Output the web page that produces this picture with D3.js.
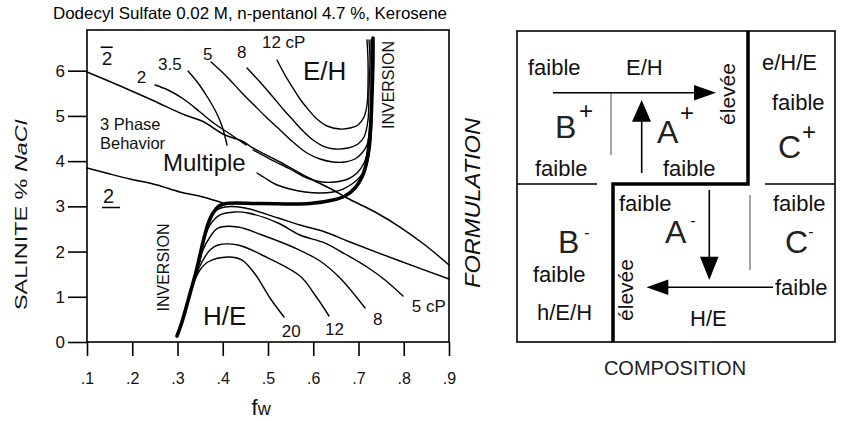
<!DOCTYPE html>
<html><head><meta charset="utf-8">
<script src="https://cdn.jsdelivr.net/npm/d3@7"></script>
<style>
html,body{margin:0;padding:0;background:#fff;}
svg{display:block;font-family:"Liberation Sans",Arial,Helvetica,sans-serif;}
</style></head><body>
<svg id="c" width="842" height="421"></svg>
<script>
// ---------------- DATA ----------------
const titleText = "Dodecyl Sulfate 0.02 M,  n-pentanol 4.7 %,  Kerosene";
const xTicks = [0.1,0.2,0.3,0.4,0.5,0.6,0.7,0.8,0.9];
const xTickLabels = [".1",".2",".3",".4",".5",".6",".7",".8",".9"];
const yTicks = [0,1,2,3,4,5,6];
const yTickLabels = ["0","1","2","3","4","5","6"];

// 3-phase boundaries  [fw, salinity]
const upperBoundary = [[0.100,5.971],[0.1685,5.683],[0.2436,5.352],[0.3166,5.020],[0.3541,4.887],[0.405,4.578],[0.4425,4.445],[0.4668,4.290],[0.5265,3.981],[0.5862,3.649],[0.6436,3.361],[0.6746,3.184],[0.7365,2.875],[0.7917,2.543],[0.847,2.145],[0.900,1.703]];
const lowerBoundary = [[0.100,3.848],[0.1508,3.715],[0.195,3.605],[0.2547,3.472],[0.3055,3.317],[0.3564,3.207],[0.4006,3.074]];

// inversion line
const inversion = [[0.2989,0.133],[0.3077,0.376],[0.3188,0.752],[0.3298,1.150],[0.3409,1.548],[0.3497,1.924],[0.3586,2.300],[0.3674,2.609],[0.3785,2.853],[0.3917,3.007],[0.4072,3.062],[0.4823,3.062],[0.5928,3.062],[0.6436,3.140],[0.6702,3.229],[0.6923,3.406],[0.7077,3.649],[0.7166,3.914],[0.7232,4.357],[0.7276,4.909],[0.7298,5.462],[0.732,6.236],[0.732,6.723]];

// iso-viscosity curves, H/E side (cP)
const hE_top = [[0.3674,2.654],[0.3807,2.875],[0.405,2.985],[0.4492,2.963],[0.5221,2.742],[0.5707,2.587],[0.626,2.433],[0.6812,2.211],[0.7917,1.791],[0.900,1.393]];
const hE_5 = [[0.3497,1.769],[0.3586,2.256],[0.3718,2.587],[0.3939,2.809],[0.4271,2.875],[0.4558,2.853],[0.5221,2.632],[0.5707,2.366],[0.626,2.189],[0.6702,1.946],[0.7188,1.659],[0.7586,1.371],[0.7983,1.017]];
const hE_8 = [[0.3453,1.636],[0.3564,2.034],[0.3718,2.322],[0.3895,2.521],[0.4337,2.543],[0.4867,2.366],[0.5597,2.079],[0.6149,1.791],[0.6591,1.415],[0.7144,0.752]];
const hE_12 = [[0.3409,1.482],[0.3541,1.769],[0.3718,2.034],[0.3895,2.145],[0.4337,2.145],[0.4867,1.924],[0.5707,1.460],[0.6039,1.039],[0.6348,0.575]];
const hE_20 = [[0.3365,1.327],[0.3497,1.592],[0.3674,1.769],[0.4116,1.880],[0.4425,1.813],[0.4713,1.504],[0.5044,0.973],[0.5354,0.553]];

// iso-viscosity curves, E/H side (cP)
const eH_12 = [[0.5199,6.236],[0.5376,5.904],[0.5552,5.617],[0.5707,5.374],[0.5862,5.175],[0.6083,4.931],[0.6304,4.777],[0.6591,4.710],[0.6812,4.732],[0.6989,4.799],[0.7122,4.976],[0.7188,5.241],[0.721,5.683],[0.721,6.236],[0.7188,6.679]];
const eH_8 = [[0.4536,6.059],[0.4823,5.750],[0.511,5.418],[0.5331,5.153],[0.5552,4.909],[0.5773,4.666],[0.5994,4.467],[0.6215,4.334],[0.6481,4.268],[0.6768,4.290],[0.6989,4.379],[0.7122,4.533],[0.721,4.909],[0.7232,5.573],[0.7254,6.236],[0.7232,6.679]];
const eH_5 = [[0.374,6.192],[0.3939,6.015],[0.416,5.794],[0.4425,5.506],[0.4669,5.263],[0.4934,4.998],[0.5265,4.688],[0.5552,4.423],[0.5862,4.180],[0.6149,4.047],[0.6436,3.981],[0.6702,3.981],[0.6923,4.047],[0.7077,4.180],[0.7188,4.357],[0.7254,4.799],[0.7276,5.573],[0.7276,6.679]];
const eH_35_upper = [[0.3232,5.993],[0.3453,5.728],[0.3674,5.396],[0.3851,5.086],[0.3983,4.777],[0.4094,4.357]];
const eH_2_upper = [[0.2503,5.683],[0.279,5.573],[0.3166,5.352],[0.3497,5.086],[0.3829,4.821],[0.416,4.600],[0.4514,4.357]];
const eH_35_lower = [[0.4669,4.246],[0.5044,4.047],[0.5486,3.826],[0.5862,3.627],[0.6193,3.538],[0.6481,3.538],[0.6768,3.605],[0.6967,3.737],[0.7122,3.958],[0.721,4.246],[0.7276,4.909],[0.7298,5.794],[0.7298,6.679]];
const eH_2_lower = [[0.4757,3.737],[0.4934,3.627],[0.5155,3.494],[0.5486,3.383],[0.5818,3.317],[0.6149,3.295],[0.6436,3.317],[0.6657,3.383],[0.6856,3.494],[0.7033,3.649],[0.7166,3.870],[0.7254,4.246],[0.7298,4.909]];

// annotations placed at [fw, salinity]
const curveLabels = [
  {t:"2", fw:0.2098, s:5.728}, {t:"3.5", fw:0.2569, s:6.015}, {t:"5", fw:0.3564, s:6.236},
  {t:"8", fw:0.4315, s:6.280}, {t:"12  cP", fw:0.4867, s:6.502},
  {t:"20", fw:0.5303, s:0.117}, {t:"12", fw:0.626, s:0.155}, {t:"8", fw:0.732, s:0.376}, {t:"5 cP", fw:0.8176, s:0.670}
];
const regionLabels = [
  {t:"E/H", fw:0.5773, s:5.794, big:true}, {t:"H/E", fw:0.3564, s:0.376, big:true},
  {t:"Multiple", fw:0.268, s:3.781, big:true},
  {t:"3 Phase", fw:0.1287, s:4.699}, {t:"Behavior", fw:0.1287, s:4.268}
];
const inversionLabels = [{t:"INVERSION", fw:0.7674, s:5.683},{t:"INVERSION", fw:0.2686, s:1.648}];

// ---------------- DRAW ----------------
const svg = d3.select("#c");
svg.append("rect").attr("width",842).attr("height",421).attr("fill","#fff");
const x = d3.scaleLinear().domain([0.1,0.9]).range([87,449]);
const y = d3.scaleLinear().domain([0,6.9]).range([342,30]);

svg.append("text").attr("x",53).attr("y",19).attr("font-size",16.5)
  .attr("textLength",394).attr("lengthAdjust","spacingAndGlyphs").text(titleText);

// frame
svg.append("rect").attr("x",x(0.1)).attr("y",y(6.9)).attr("width",x(0.9)-x(0.1)).attr("height",y(0)-y(6.9))
  .attr("fill","none").attr("stroke","#000").attr("stroke-width",1.6);

const gy = svg.append("g").attr("transform",`translate(${x(0.1)},0)`)
  .call(d3.axisLeft(y).tickValues(yTicks).tickSize(19).tickPadding(3).tickFormat((d,i)=>yTickLabels[i]));
gy.select(".domain").remove();
gy.selectAll("line").attr("stroke","#000").attr("stroke-width",1.6);
gy.selectAll("text").attr("font-size",17).attr("font-family","Liberation Sans, Arial, sans-serif").attr("fill","#111");

const gx = svg.append("g").attr("transform",`translate(0,${y(0)})`)
  .call(d3.axisBottom(x).tickValues(xTicks).tickSize(14).tickPadding(17).tickFormat((d,i)=>xTickLabels[i]));
gx.select(".domain").remove();
gx.selectAll("line").attr("stroke","#000").attr("stroke-width",1.6);
gx.selectAll("text").attr("font-size",16).attr("font-family","Liberation Sans, Arial, sans-serif").attr("fill","#111");

// axis titles
const fwT = svg.append("text").attr("x",251.5).attr("y",415).attr("fill","#111");
fwT.append("tspan").attr("font-size",22).text("f");
fwT.append("tspan").attr("font-size",18).text("w");

const salT = svg.append("text").attr("transform","translate(27,215) rotate(-90)")
  .attr("text-anchor","middle").attr("font-size",17).attr("fill","#111")
  .attr("textLength",190).attr("lengthAdjust","spacingAndGlyphs");
salT.append("tspan").text("SALINITE % ");
salT.append("tspan").attr("font-style","italic").text("NaCl");

svg.append("text").attr("transform","translate(480,203) rotate(-90)").attr("text-anchor","middle")
  .attr("font-size",22).attr("font-style","italic").attr("textLength",170).attr("lengthAdjust","spacingAndGlyphs")
  .attr("fill","#111").text("FORMULATION");

const line = d3.line().x(d=>x(d[0])).y(d=>y(d[1])).curve(d3.curveCatmullRom.alpha(0.5));
const plot = svg.append("g").attr("fill","none").attr("stroke","#000").attr("stroke-linejoin","round").attr("stroke-linecap","round");
[upperBoundary, lowerBoundary].forEach(d=>plot.append("path").attr("d",line(d)).attr("stroke-width",1.5));
[hE_top,hE_5,hE_8,hE_12,hE_20,eH_12,eH_8,eH_5,eH_35_upper,eH_2_upper,eH_35_lower,eH_2_lower]
  .forEach(d=>plot.append("path").attr("d",line(d)).attr("stroke-width",1.4));
plot.append("path").attr("d",line(inversion)).attr("stroke-width",3.6);

// labels
curveLabels.forEach(l=>svg.append("text").attr("x",x(l.fw)).attr("y",y(l.s)).attr("font-size",17).attr("fill","#111").text(l.t));
regionLabels.forEach(l=>svg.append("text").attr("x",x(l.fw)).attr("y",y(l.s)).attr("font-size",l.big?(l.t==="Multiple"?24:26):16.5).attr("fill","#111").text(l.t));
inversionLabels.forEach(l=>svg.append("text").attr("transform",`translate(${x(l.fw)},${y(l.s)}) rotate(-90)`)
  .attr("text-anchor","middle").attr("dominant-baseline","central").attr("font-size",16).attr("fill","#111").text(l.t));

// phase-count labels: 2 with overline (above) and underline (below)
const twoBar = {fw:0.1325, s:6.132}, twoUnder = {fw:0.1354, s:3.074};
svg.append("text").attr("x",x(twoBar.fw)).attr("y",y(twoBar.s)).attr("font-size",19).attr("fill","#111").text("2");
svg.append("line").attr("x1",x(twoBar.fw)-1).attr("x2",x(twoBar.fw)+11).attr("y1",y(twoBar.s)-17.5).attr("y2",y(twoBar.s)-17.5).attr("stroke","#000").attr("stroke-width",1.5);
svg.append("text").attr("x",x(twoUnder.fw)).attr("y",y(twoUnder.s)).attr("font-size",20).attr("fill","#111").text("2");
svg.append("line").attr("x1",x(twoUnder.fw)-1).attr("x2",x(twoUnder.fw)+17).attr("y1",y(twoUnder.s)+4.5).attr("y2",y(twoUnder.s)+4.5).attr("stroke","#000").attr("stroke-width",1.5);

// ---------------- RIGHT SCHEMATIC ----------------
const R = svg.append("g");
R.append("rect").attr("x",517).attr("y",31).attr("width",318).attr("height",311).attr("fill","none").attr("stroke","#000").attr("stroke-width",1.6);
R.append("path").attr("d","M748,31 V184 H613 V342").attr("fill","none").attr("stroke","#000").attr("stroke-width",3.5);
R.append("path").attr("d","M517,184 H597 M765,184 H835").attr("stroke","#000").attr("stroke-width",1.3);
R.append("path").attr("d","M611,93 V155 M750,195 V270").attr("stroke","#888").attr("stroke-width",1.5);
// arrows
R.append("path").attr("d","M553,92.7 H700 M641.7,173 V115 M709.3,190 V262 M773,287.3 H662").attr("stroke","#000").attr("stroke-width",1.6);
R.append("path").attr("d","M694,85 L716,92.7 L694,100.5 Z M632,121.7 L641.7,100 L651,121.7 Z M700,256.7 L709.3,280 L718.5,256.7 Z M668.3,279.5 L646.5,287.3 L668.3,295 Z").attr("fill","#000");

const diagText = [
  {t:"faible",x:528,y:75},{t:"E/H",x:626,y:75},{t:"faible",x:535,y:176},{t:"faible",x:663,y:176},
  {t:"e/H/E",x:762,y:70},{t:"faible",x:772,y:110},
  {t:"faible",x:619,y:211},{t:"faible",x:773,y:211},{t:"faible",x:533,y:282},{t:"h/E/H",x:537,y:320},
  {t:"faible",x:775,y:295},{t:"H/E",x:690,y:326}
];
diagText.forEach(d=>R.append("text").attr("x",d.x).attr("y",d.y).attr("font-size",22).attr("fill","#111").text(d.t));
const bigLetters = [
  {t:"B",x:555,y:138,s:"+",sx:586,sy:110},{t:"A",x:657,y:143,s:"+",sx:687,sy:112},{t:"C",x:778,y:158,s:"+",sx:809,sy:131},
  {t:"B",x:558,y:253,s:"-",sx:587,sy:232},{t:"A",x:665,y:243,s:"-",sx:693,sy:220},{t:"C",x:785,y:253,s:"-",sx:811,sy:231}
];
bigLetters.forEach(d=>{
  R.append("text").attr("x",d.x).attr("y",d.y).attr("font-size",32).attr("fill","#222").text(d.t);
  R.append("text").attr("x",d.sx).attr("y",d.sy).attr("text-anchor","middle").attr("dominant-baseline","central")
    .attr("font-size",d.s==="+"?24:16).attr("fill","#111").text(d.s);
});
[{x:727,y:94},{x:625,y:290}].forEach(p=>R.append("text").attr("transform",`translate(${p.x},${p.y}) rotate(-90)`)
  .attr("text-anchor","middle").attr("dominant-baseline","central").attr("font-size",21).attr("fill","#111").text("élevée"));
R.append("text").attr("x",675).attr("y",375).attr("text-anchor","middle").attr("font-size",20).attr("fill","#222").text("COMPOSITION");
</script>
</body></html>
